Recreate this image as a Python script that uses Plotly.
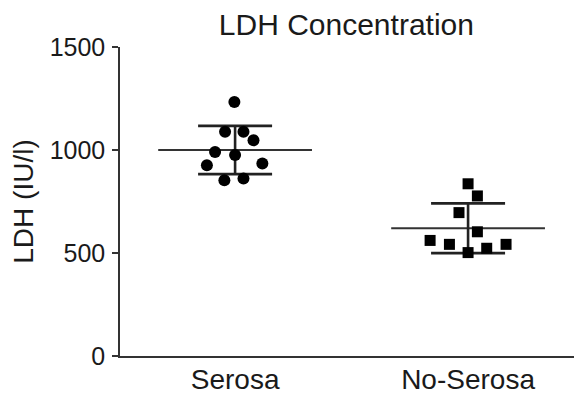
import numpy as np
import plotly.graph_objects as go

# ---- data ----
categories = ["Serosa", "No-Serosa"]
serosa_values = [1233, 1089, 1089, 1047, 990, 976, 926, 934, 853, 862]
serosa_jitter = [-0.003, -0.043, 0.036, 0.079, -0.086, 0.0, -0.121, 0.117, -0.046, 0.036]
noserosa_values = [836, 777, 696, 603, 561, 542, 502, 523, 542]
noserosa_jitter = [0.0, 0.04, -0.039, 0.04, -0.163, -0.08, 0.0, 0.08, 0.163]
y_ticks = [0, 500, 1000, 1500]

FONT = "Arial, Liberation Sans, Helvetica, sans-serif"
TXT = "#1a1a1a"
LINE = "#333333"

groups = [
    (1, serosa_values, serosa_jitter, "circle", 12),
    (2, noserosa_values, noserosa_jitter, "square", 11),
]

fig = go.Figure()
for xc, vals, jit, sym, sz in groups:
    vals = np.array(vals, dtype=float)
    m = vals.mean()
    sd = vals.std(ddof=1)
    # mean line
    fig.add_trace(go.Scatter(
        x=[xc - 0.33, xc + 0.33], y=[m, m], mode="lines",
        line=dict(color=LINE, width=2), showlegend=False, hoverinfo="skip"))
    # SD error bar
    fig.add_trace(go.Scatter(
        x=[xc], y=[m], mode="markers", marker=dict(size=1, opacity=0),
        error_y=dict(type="data", array=[sd], visible=True, color="#222222",
                     thickness=2.6, width=37),
        showlegend=False, hoverinfo="skip"))
    # points
    fig.add_trace(go.Scatter(
        x=[xc + j for j in jit], y=vals, mode="markers",
        marker=dict(symbol=sym, size=sz, color="black", line=dict(width=0)),
        showlegend=False))

# the page body has an 8px margin, so the figure is sized to end at the window edge
fig.update_layout(
    width=574, height=390,
    margin=dict(l=112, r=0, t=39, b=42),
    paper_bgcolor="white", plot_bgcolor="white",
    font=dict(family=FONT, color=TXT),
    title=dict(text="LDH Concentration", font=dict(size=30, color=TXT),
               x=0.49, xref="paper", xanchor="center",
               y=0.985, yref="container", yanchor="top"),
    showlegend=False,
)
fig.update_xaxes(
    range=[0.506, 2.489], tickvals=[1, 2], ticktext=categories,
    showgrid=False, zeroline=False, showline=True, linecolor=LINE, linewidth=1.5,
    ticks="", tickfont=dict(size=28, color=TXT), ticklabelstandoff=-2,
    automargin=False,
)
fig.update_yaxes(
    range=[0, 1500], tickvals=y_ticks, ticktext=[str(v) for v in y_ticks],
    showgrid=False, zeroline=False, showline=True, linecolor=LINE, linewidth=1.5,
    ticks="outside", ticklen=6, tickwidth=1.5, tickcolor=LINE,
    tickfont=dict(size=25, color=TXT), ticklabelstandoff=2,
    title=dict(text="LDH (IU/l)", font=dict(size=28, color=TXT), standoff=12),
    automargin=False,
)

fig.write_html("out.html")
